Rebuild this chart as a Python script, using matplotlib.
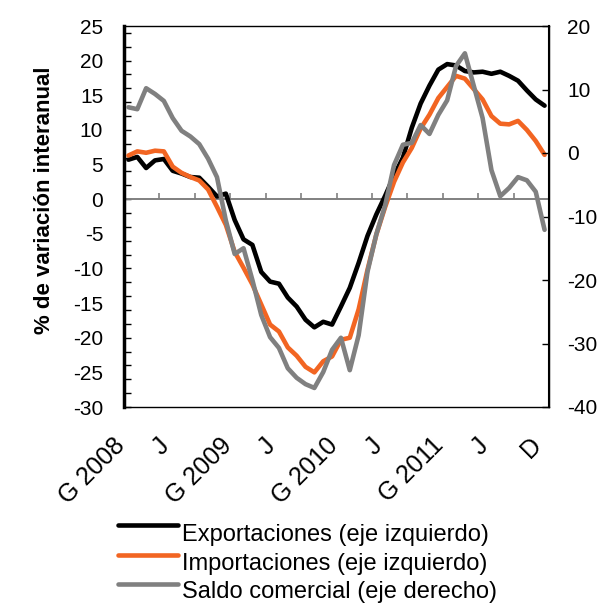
import numpy as np
import matplotlib
matplotlib.use("Agg")
import matplotlib.pyplot as plt
from matplotlib.lines import Line2D
from matplotlib.transforms import ScaledTranslation

plt.rcParams['font.family'] = ['Liberation Sans', 'DejaVu Sans']

# Monthly data, Jan 2008 .. Dec 2011
exportaciones = [5.7, 6.1, 4.5, 5.6, 5.8, 4.1, 3.7, 3.2, 3.1, 1.8, 0.4, 0.8,
                 -3.0, -5.8, -6.6, -10.5, -11.9, -12.2, -14.2, -15.5, -17.4, -18.5, -17.7, -18.1,
                 -15.5, -12.8, -9.2, -5.3, -2.2, 0.5, 3.4, 6.0, 10.3, 13.8, 16.4, 18.7,
                 19.5, 19.3, 18.5, 18.3, 18.4, 18.1, 18.4, 17.8, 17.1, 15.7, 14.4, 13.5]
importaciones = [6.3, 6.9, 6.7, 7.0, 6.9, 4.7, 3.8, 3.2, 2.7, 1.4, -1.1, -3.7,
                 -7.6, -9.9, -12.3, -15.2, -18.1, -19.1, -21.4, -22.6, -24.2, -25.0, -23.4, -22.7,
                 -20.3, -20.0, -15.9, -10.2, -5.1, -1.1, 2.5, 5.3, 7.4, 10.2, 12.2, 14.6,
                 16.2, 17.8, 17.4, 15.9, 14.4, 12.0, 10.9, 10.8, 11.3, 10.0, 8.4, 6.4]
saldo = [7.2, 6.9, 10.2, 9.3, 8.2, 5.5, 3.5, 2.6, 1.4, -0.9, -3.8, -10.6,
         -15.9, -15.0, -20.0, -25.5, -29.0, -30.7, -33.9, -35.4, -36.4, -37.0, -34.5, -31.0,
         -29.1, -34.2, -28.7, -18.7, -12.8, -8.2, -1.9, 1.3, 1.6, 4.4, 3.0, 6.0,
         8.3, 13.7, 15.7, 10.6, 5.5, -2.7, -6.8, -5.5, -3.8, -4.3, -6.1, -12.1]

xlabel_pos = [0, 5, 12, 17, 24, 29, 36, 41, 47]
xlabels = ["G 2008", "J", "G 2009", "J", "G 2010", "J", "G 2011", "J", "D"]
left_ticks = list(range(-30, 26, 5))
right_ticks = list(range(-40, 21, 10))
legend_labels = ["Exportaciones (eje izquierdo)", "Importaciones (eje izquierdo)",
                 "Saldo comercial (eje derecho)"]
colors = ["#000000", "#F26522", "#808080"]

W, H = 605, 603
fig = plt.figure(figsize=(W / 100, H / 100), dpi=100)
ax = fig.add_axes([124 / W, 1 - 407 / H, (549 - 124) / W, (407 - 26) / H])
x = np.arange(len(exportaciones))

lw = 3.3
ax.plot(x, exportaciones, color=colors[0], lw=lw, solid_joinstyle='round', solid_capstyle='round', zorder=3)
ax.plot(x, importaciones, color=colors[1], lw=lw, solid_joinstyle='round', solid_capstyle='round', zorder=4)
ax.set_xlim(-0.5, len(x) - 0.5)
ax.set_ylim(-30, 25)

# zero line with tick marks every 4 months
ax.axhline(0, color="#808080", lw=1.4, zorder=2)
ax.vlines(np.arange(3.5, 47, 4), 0, 0.85, color="#808080", lw=1.2, zorder=2)

ax.set_yticks(left_ticks)
ax.set_yticklabels([str(t) for t in left_ticks])
ax.set_yticks(np.arange(-30, 25, 2), minor=True)
ax.yaxis.remove_overlapping_locs = False
ax.tick_params(axis='y', which='major', length=0, pad=15, labelsize=15)
ax.tick_params(axis='y', which='minor', direction='in', length=5, width=1, color='black')

ax.set_xticks(xlabel_pos)
ax.set_xticklabels(xlabels, rotation=45, ha='right', va='center', rotation_mode='anchor')
ax.tick_params(axis='x', length=0, pad=25, labelsize=18)
offset = ScaledTranslation(-7 / 100, 0, fig.dpi_scale_trans)
for lab in ax.get_xticklabels():
    lab.set_transform(lab.get_transform() + offset)

for s in ['top', 'bottom', 'right']:
    ax.spines[s].set_linewidth(1.0)
    ax.spines[s].set_color('black')
ax.spines['left'].set_linewidth(2.5)

ax2 = ax.twinx()
ax2.plot(x, saldo, color=colors[2], lw=lw, solid_joinstyle='round', solid_capstyle='round', zorder=5)
ax2.set_ylim(-40, 20)
ax2.set_yticks(right_ticks)
ax2.set_yticklabels([str(t) for t in right_ticks])
ax2.tick_params(axis='y', direction='in', length=5, width=1, pad=13, labelsize=15)
for s in ['top', 'bottom', 'left']:
    ax2.spines[s].set_visible(False)
ax2.spines['right'].set_linewidth(1.5)

fig.text(45 / W, 1 - 200 / H, "% de variación interanual", rotation=90,
         ha='center', va='center', fontsize=16, fontweight='bold')

# legend (manual layout)
handle_y = [525, 555, 584]
text_base = [541, 570, 598]
for lab, c, hy, ty in zip(legend_labels, colors, handle_y, text_base):
    fig.add_artist(Line2D([118 / W, 178 / W], [1 - hy / H, 1 - hy / H], color=c, lw=3.3,
                          solid_capstyle='round', transform=fig.transFigure))
    fig.text(182 / W, 1 - ty / H, lab, ha='left', va='baseline', fontsize=17)

fig.savefig("out.png", dpi=100)
